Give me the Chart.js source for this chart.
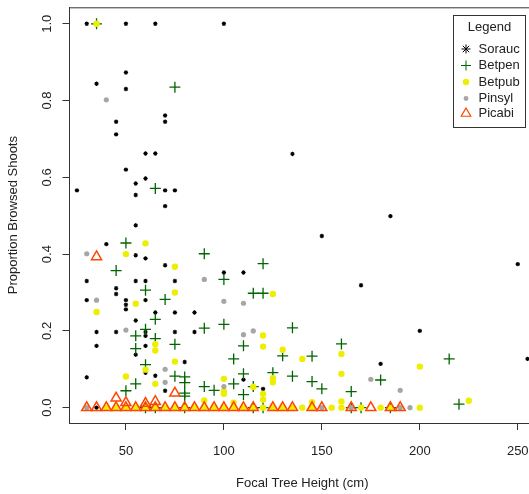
<!DOCTYPE html>
<html>
<head>
<meta charset="utf-8">
<script src="https://cdn.jsdelivr.net/npm/chart.js@4.4.1/dist/chart.umd.min.js"></script>
<style>
  html, body { margin: 0; padding: 0; background: #fff; overflow: hidden; }
  #wrap { width: 529px; height: 494px; overflow: hidden; }
</style>
</head>
<body>
<div id="wrap"><canvas id="chart" width="545" height="494"></canvas></div>
<script>
// species codes, in legend order
const species = ['Sorauc', 'Betpen', 'Betpub', 'Pinsyl', 'Picabi'];

// [height (cm), proportion browsed]
const soraucPoints = [
  [25, 0.566], [30, 1.0], [30, 0.33], [30, 0.28], [30, 0.079], [35, 0.844], [35, 0.197], [35, 0.161], [35, 0],
  [40, 0.426], [45, 0.745], [45, 0.712], [45, 0.311], [45, 0.296], [45, 0.197],
  [50, 1.0], [50, 0.873], [50, 0.83], [50, 0.62], [50, 0.28], [50, 0.268], [50, 0.256],
  [55, 0.584], [55, 0.554], [55, 0.475], [55, 0.397], [55, 0.33], [55, 0.227], [55, 0.138],
  [60, 0.662], [60, 0.597], [60, 0.389], [60, 0.33], [60, 0.28], [60, 0.197], [60, 0.187], [60, 0.161], [60, 0.091],
  [65, 1.0], [65, 0.662], [65, 0.248], [65, 0.083],
  [70, 0.761], [70, 0.745], [70, 0.566], [70, 0.525], [70, 0.371], [70, 0.044],
  [75, 0.566], [75, 0.33], [75, 0.248], [75, 0.197], [80, 0.119], [85, 0.248], [85, 0.197],
  [100, 1.0], [100, 0.352], [110, 0.352], [110, 0.073], [120, 0.049], [135, 0.661], [150, 0.447],
  [170, 0.319], [180, 0.114], [185, 0.499], [200, 0.2], [250, 0.374], [255, 0.127]
];
const betpenPoints = [
  [35, 1.0], [45, 0.357], [50, 0.429], [50, 0.044], [55, 0.187], [55, 0.154], [55, 0.062],
  [60, 0.306], [60, 0.204], [60, 0.112], [60, 0], [65, 0.571], [65, 0.23], [65, 0.18], [65, 0], [70, 0.282],
  [75, 0.835], [75, 0.165], [75, 0.082], [80, 0.08], [80, 0.065], [80, 0.038], [80, 0.03], [80, 0],
  [90, 0.401], [90, 0.207], [90, 0.055], [95, 0.045], [100, 0.334], [100, 0.217],
  [105, 0.127], [105, 0.062], [110, 0.161], [110, 0.088], [110, 0.034], [115, 0.298], [115, 0.055], [115, 0],
  [120, 0.375], [120, 0.298], [120, 0], [125, 0.091], [130, 0.135], [135, 0.208], [135, 0.082],
  [145, 0.134], [145, 0.068], [150, 0.049], [160, 0.166], [165, 0.042], [165, 0], [170, 0],
  [180, 0.072], [185, 0], [215, 0.127], [220, 0.009]
];
const betpubPoints = [
  [35, 1.0], [35, 0.249], [50, 0.4], [50, 0.081], [55, 0.271], [60, 0.428], [60, 0.099],
  [65, 0.165], [65, 0.149], [65, 0.062], [75, 0.367], [75, 0.3], [75, 0.12],
  [90, 0.019], [100, 0.075], [100, 0.043], [100, 0.036], [105, 0.013], [115, 0.054],
  [120, 0.188], [120, 0.159], [120, 0.036], [120, 0.021], [125, 0.296], [125, 0.077], [125, 0.066],
  [130, 0.151], [140, 0.127], [145, 0.014], [160, 0.14], [160, 0.088], [160, 0.016], [200, 0.107], [225, 0.018],
  [40, 0], [45, 0], [50, 0], [55, 0], [60, 0], [65, 0], [70, 0], [75, 0], [80, 0], [85, 0], [90, 0], [95, 0],
  [100, 0], [105, 0], [110, 0], [115, 0], [120, 0], [125, 0], [130, 0], [135, 0], [140, 0], [145, 0],
  [155, 0], [160, 0], [170, 0], [180, 0], [185, 0], [200, 0]
];
const pinsylPoints = [
  [30, 0.401], [30, 0], [35, 0.28], [40, 0.802], [50, 0.202], [70, 0.1], [70, 0.066],
  [90, 0.334], [100, 0.277], [100, 0.055], [110, 0.272], [110, 0.19], [115, 0.2],
  [150, 0], [165, 0], [175, 0.074], [190, 0.045], [190, 0], [195, 0]
];
const picabiPoints = [
  [35, 0.393], [45, 0.025], [50, 0.013], [60, 0.011], [65, 0.016], [75, 0.038],
  [30, 0], [35, 0], [40, 0], [45, 0], [50, 0], [55, 0], [60, 0], [65, 0], [70, 0], [75, 0], [80, 0], [85, 0],
  [90, 0], [95, 0], [100, 0], [105, 0], [110, 0], [115, 0], [125, 0], [130, 0], [135, 0], [145, 0], [150, 0],
  [165, 0], [175, 0], [185, 0], [190, 0]
];

const xTicks = [50, 100, 150, 200, 250];
const yTicks = [0, 0.2, 0.4, 0.6, 0.8, 1.0];
const yTickLabels = ['0.0', '0.2', '0.4', '0.6', '0.8', '1.0'];
const xTitle = 'Focal Tree Height (cm)';
const yTitle = 'Proportion Browsed Shoots';
const legendTitle = 'Legend';

const FONT = '"Liberation Sans", Arial, Helvetica, sans-serif';
const TEXT = '#222';

const styles = {
  Sorauc: { pointStyle: 'star', radius: 2.2, borderWidth: 1.1, borderColor: '#000', backgroundColor: '#000', order: 5 },
  Betpen: { pointStyle: 'cross', radius: 5.5, borderWidth: 1.3, borderColor: '#006400', backgroundColor: '#006400', order: 4 },
  Betpub: { pointStyle: 'circle', radius: 3.2, borderWidth: 0, borderColor: '#eeee00', backgroundColor: '#eeee00', order: 3 },
  Pinsyl: { pointStyle: 'circle', radius: 2.6, borderWidth: 0, borderColor: '#a6a6a6', backgroundColor: '#a6a6a6', order: 2 },
  Picabi: { pointStyle: 'triangle', radius: 5.8, borderWidth: 1.5, borderColor: '#ff4500', backgroundColor: 'rgba(0,0,0,0)', order: 1 }
};
const legendStyles = {
  Sorauc: { pointStyle: 'star', radius: 4.5, borderWidth: 1 },
  Betpen: { pointStyle: 'cross', radius: 5, borderWidth: 1 },
  Betpub: { pointStyle: 'circle', radius: 3.2, borderWidth: 0 },
  Pinsyl: { pointStyle: 'circle', radius: 2.4, borderWidth: 0 },
  Picabi: { pointStyle: 'triangle', radius: 5.5, borderWidth: 1.2 }
};

const seriesPoints = [soraucPoints, betpenPoints, betpubPoints, pinsylPoints, picabiPoints];

const datasets = species.map((name, i) => {
  const s = styles[name];
  return {
    label: name,
    data: seriesPoints[i].map(p => ({ x: p[0], y: p[1] })),
    pointStyle: s.pointStyle,
    pointRadius: s.radius,
    pointBorderWidth: s.borderWidth,
    pointBorderColor: s.borderColor,
    pointBackgroundColor: s.backgroundColor,
    order: s.order
  };
});

// box top/right, rotated y labels, legend box
const extrasPlugin = {
  id: 'extras',
  afterDraw(chart) {
    const { ctx, chartArea } = chart;
    const yScale = chart.scales.y;
    ctx.save();
    ctx.strokeStyle = '#333';
    ctx.lineWidth = 1;
    ctx.beginPath();
    ctx.moveTo(chartArea.left, chartArea.top + 0.5);
    ctx.lineTo(chartArea.right, chartArea.top + 0.5);
    ctx.lineTo(chartArea.right, chartArea.bottom);
    ctx.stroke();

    ctx.fillStyle = TEXT;
    ctx.font = '13px ' + FONT;
    ctx.textAlign = 'center';
    ctx.textBaseline = 'middle';
    yTicks.forEach((v, i) => {
      const py = yScale.getPixelForValue(v);
      ctx.save();
      ctx.translate(47, py);
      ctx.rotate(-Math.PI / 2);
      ctx.fillText(yTickLabels[i], 0, 0);
      ctx.restore();
    });

    // legend
    const lx = 453.5, ly = 15.5, lw = 72, lh = 112;
    ctx.fillStyle = '#fff';
    ctx.fillRect(lx, ly, lw, lh);
    ctx.strokeStyle = '#333';
    ctx.strokeRect(lx, ly, lw, lh);
    ctx.fillStyle = TEXT;
    ctx.textAlign = 'center';
    ctx.fillText(legendTitle, 489.5, 27.5);
    const rows = [49, 65.5, 82, 98.5, 113.5];
    species.forEach((name, i) => {
      const s = styles[name];
      const ls = legendStyles[name];
      ctx.strokeStyle = s.borderColor;
      ctx.fillStyle = s.backgroundColor;
      ctx.lineWidth = ls.borderWidth;
      Chart.helpers.drawPoint(ctx, { pointStyle: ls.pointStyle, radius: ls.radius, rotation: 0, borderWidth: ls.borderWidth }, 466, rows[i]);
      ctx.fillStyle = TEXT;
      ctx.textAlign = 'left';
      ctx.fillText(name, 478.5, rows[i]);
    });
    ctx.restore();
  }
};

new Chart(document.getElementById('chart'), {
  type: 'scatter',
  data: { datasets },
  options: {
    responsive: false,
    animation: false,
    events: [],
    layout: { padding: { top: 6, right: 10, left: 0, bottom: 0 } },
    plugins: { legend: { display: false }, tooltip: { enabled: false } },
    scales: {
      x: {
        type: 'linear',
        min: 21.2,
        max: 258.8,
        afterBuildTicks: s => { s.ticks = xTicks.map(v => ({ value: v })); },
        afterFit: s => { s.height = 71; },
        grid: { drawOnChartArea: false, drawTicks: true, tickLength: 7, tickColor: '#333', tickWidth: 1 },
        border: { display: true, color: '#333', width: 1 },
        ticks: { color: TEXT, font: { family: FONT, size: 13 }, padding: 14, maxRotation: 0, autoSkip: false, callback: v => String(v) },
        title: { display: true, text: xTitle, color: TEXT, font: { family: FONT, size: 13 }, padding: { top: 0, bottom: 3 } }
      },
      y: {
        type: 'linear',
        min: -0.04,
        max: 1.043,
        afterBuildTicks: s => { s.ticks = yTicks.map(v => ({ value: v })); },
        afterFit: s => { s.width = 69.5; },
        grid: { drawOnChartArea: false, drawTicks: true, tickLength: 7, tickColor: '#333', tickWidth: 1 },
        border: { display: true, color: '#333', width: 1 },
        ticks: { display: false },
        title: { display: true, text: yTitle, color: TEXT, font: { family: FONT, size: 13 }, padding: { top: 6, bottom: 0 } }
      }
    }
  },
  plugins: [extrasPlugin]
});
</script>
</body>
</html>
